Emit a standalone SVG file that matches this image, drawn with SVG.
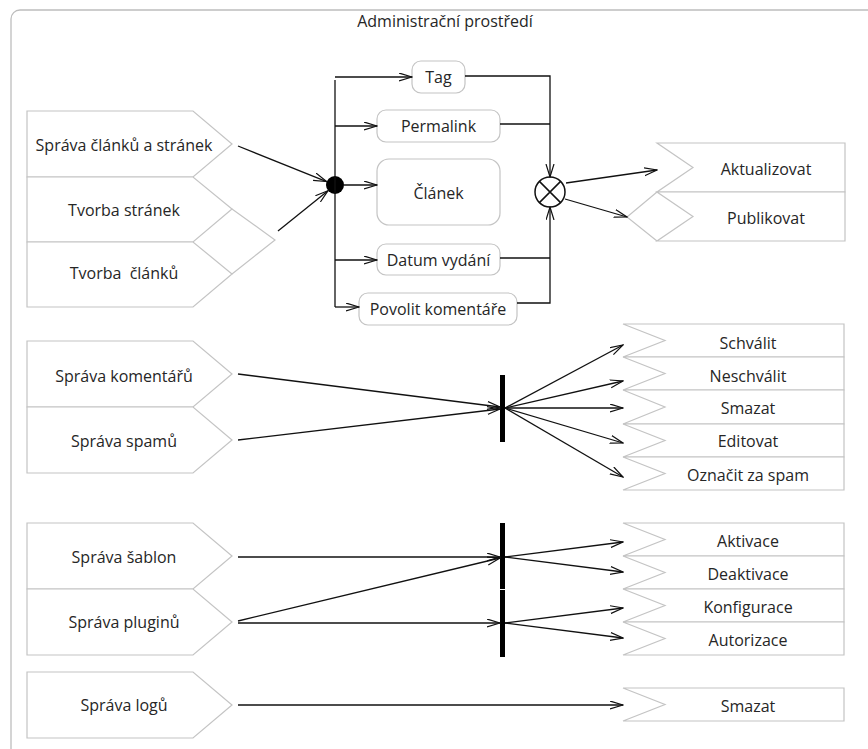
<svg xmlns="http://www.w3.org/2000/svg" width="868" height="749" viewBox="0 0 868 749">
  <style>
    text { font-family: "Open Sans", "DejaVu Sans", sans-serif; font-size: 16px; fill: #262626; text-anchor: middle; dominant-baseline: central; }
    .shape { fill: #fff; stroke: #c4c4c4; stroke-width: 1.2; }
    .act { fill: #fff; stroke: #c4c4c4; stroke-width: 1.2; }
    .edge { fill: none; stroke: #111; stroke-width: 1.3; }
    .flow { fill: none; stroke: #111; stroke-width: 1.3; marker-end: url(#open); }
    .bar { fill: #000; }
  </style>
  <defs>
    <marker id="open" markerUnits="userSpaceOnUse" markerWidth="14" markerHeight="10" refX="13" refY="4.5" orient="auto">
      <path d="M0,0.5 L13,4.5 L0,8.5" fill="none" stroke="#111" stroke-width="1.2"/>
    </marker>
  </defs>

  <rect width="868" height="749" fill="#fff"/>

  <!-- frame of the activity region -->
  <g id="frame">
    <rect x="11" y="10" width="900" height="780" rx="9" fill="none" stroke="#bdbdbd" stroke-width="1.3"/>
    <text x="445" y="21">Administrační prostředí</text>
  </g>

  <!-- source signals, group 1 -->
  <g id="sprava-clanku">
    <polygon class="shape" points="27,111 193,111 232,144 193,177 27,177"/>
    <text x="124" y="145">Správa článků a stránek</text>
  </g>
  <g id="tvorba-stranek">
    <polygon class="shape" points="27,177 193,177 232,209 193,242 27,242"/>
    <polyline class="shape" fill="none" points="232,209 275,240 232,274"/>
    <text x="124" y="210">Tvorba stránek</text>
  </g>
  <g id="tvorba-clanku">
    <polygon class="shape" points="27,242 193,242 232,274 193,307 27,307"/>
    <text x="124" y="273" xml:space="preserve">Tvorba  článků</text>
  </g>

  <!-- actions, group 1 -->
  <g id="tag">
    <rect class="act" x="412" y="61" width="53" height="32" rx="9"/>
    <text x="438.5" y="77">Tag</text>
  </g>
  <g id="permalink">
    <rect class="act" x="377" y="110" width="123" height="32" rx="9"/>
    <text x="438.5" y="126">Permalink</text>
  </g>
  <g id="clanek">
    <rect class="act" x="377" y="159" width="123" height="66" rx="12"/>
    <text x="438.5" y="193">Článek</text>
  </g>
  <g id="datum">
    <rect class="act" x="377" y="244" width="123" height="31" rx="9"/>
    <text x="438.5" y="260">Datum vydání</text>
  </g>
  <g id="povolit">
    <rect class="act" x="359" y="293" width="158" height="32" rx="9"/>
    <text x="438" y="309">Povolit komentáře</text>
  </g>

  <!-- target signals, group 1 -->
  <g id="aktualizovat">
    <polygon class="shape" points="657,143 845,143 845,192 657,192 693,167.5"/>
    <text x="766" y="169">Aktualizovat</text>
  </g>
  <g id="publikovat">
    <polygon class="shape" points="657,192 845,192 845,241 657,241 693,216.5"/>
    <polyline class="shape" fill="none" points="657,192 627,217 657,241"/>
    <text x="766" y="218">Publikovat</text>
  </g>

  <!-- source signals, group 2 -->
  <g id="sprava-komentaru">
    <polygon class="shape" points="27,341 193,341 232,374 193,407 27,407"/>
    <text x="124" y="376">Správa komentářů</text>
  </g>
  <g id="sprava-spamu">
    <polygon class="shape" points="27,407 193,407 232,440 193,473 27,473"/>
    <text x="124" y="441">Správa spamů</text>
  </g>

  <!-- target signals, group 2 -->
  <g id="schvalit">
    <polygon class="shape" points="623,324 844,324 844,357 623,357 665,340.5"/>
    <text x="748" y="343">Schválit</text>
  </g>
  <g id="neschvalit">
    <polygon class="shape" points="623,357 844,357 844,390 623,390 665,373.5"/>
    <text x="748" y="376">Neschválit</text>
  </g>
  <g id="smazat-komentar">
    <polygon class="shape" points="623,390 844,390 844,424 623,424 665,407"/>
    <text x="748" y="408">Smazat</text>
  </g>
  <g id="editovat">
    <polygon class="shape" points="623,424 844,424 844,457 623,457 665,440.5"/>
    <text x="748" y="441">Editovat</text>
  </g>
  <g id="oznacit-spam">
    <polygon class="shape" points="623,457 844,457 844,490 623,490 665,473.5"/>
    <text x="748" y="475">Označit za spam</text>
  </g>

  <!-- source signals, group 3 -->
  <g id="sprava-sablon">
    <polygon class="shape" points="27,523 193,523 232,556 193,589 27,589"/>
    <text x="124" y="557">Správa šablon</text>
  </g>
  <g id="sprava-pluginu">
    <polygon class="shape" points="27,589 193,589 232,622 193,655 27,655"/>
    <text x="124" y="622">Správa pluginů</text>
  </g>
  <g id="sprava-logu">
    <polygon class="shape" points="27,672 193,672 232,705 193,738 27,738"/>
    <text x="124" y="705">Správa logů</text>
  </g>

  <!-- target signals, group 3 -->
  <g id="aktivace">
    <polygon class="shape" points="623,523 844,523 844,556 623,556 665,539.5"/>
    <text x="748" y="541">Aktivace</text>
  </g>
  <g id="deaktivace">
    <polygon class="shape" points="623,556 844,556 844,589 623,589 665,572.5"/>
    <text x="748" y="574">Deaktivace</text>
  </g>
  <g id="konfigurace">
    <polygon class="shape" points="623,589 844,589 844,622 623,622 665,605.5"/>
    <text x="748" y="607">Konfigurace</text>
  </g>
  <g id="autorizace">
    <polygon class="shape" points="623,622 844,622 844,655 623,655 665,638.5"/>
    <text x="748" y="640">Autorizace</text>
  </g>
  <g id="smazat-logy">
    <polygon class="shape" points="623,688 844,688 844,721 623,721 665,704.5"/>
    <text x="748" y="706">Smazat</text>
  </g>

  <!-- control nodes -->
  <g id="fork-1">
    <circle cx="335" cy="185" r="9" fill="#000"/>
  </g>
  <g id="merge-1">
    <circle cx="550" cy="192" r="15" fill="#fff" stroke="#111" stroke-width="1.5"/>
    <path d="M539.4,181.4 L560.6,202.6 M560.6,181.4 L539.4,202.6" stroke="#111" stroke-width="1.5"/>
  </g>
  <g id="join-2">
    <rect class="bar" x="500" y="375" width="5" height="67"/>
  </g>
  <g id="join-3a">
    <rect class="bar" x="500" y="523" width="5" height="66"/>
  </g>
  <g id="join-3b">
    <rect class="bar" x="500" y="590" width="5" height="67"/>
  </g>

  <!-- connectors -->
  <g id="connectors">
    <!-- into fork -->
    <line class="flow" x1="238" y1="146" x2="326.6" y2="181.6"/>
    <line class="flow" x1="278" y1="231" x2="328" y2="190.7"/>
    <!-- fork spine and branches -->
    <line class="edge" x1="335" y1="80" x2="335" y2="307"/>
    <line class="flow" x1="335" y1="77" x2="412" y2="77"/>
    <line class="flow" x1="335" y1="126" x2="377" y2="126"/>
    <line class="flow" x1="344" y1="185" x2="377" y2="185"/>
    <line class="flow" x1="335" y1="260" x2="377" y2="260"/>
    <line class="flow" x1="335" y1="307" x2="359" y2="307"/>
    <!-- into merge -->
    <polyline class="edge" points="465,76 550,76 550,100"/>
    <line class="edge" x1="500" y1="124" x2="550" y2="124"/>
    <line class="flow" x1="550" y1="100" x2="550" y2="177"/>
    <polyline class="edge" points="517,303 550,303 550,280"/>
    <line class="edge" x1="500" y1="258" x2="550" y2="258"/>
    <line class="flow" x1="550" y1="280" x2="550" y2="207"/>
    <!-- out of merge -->
    <line class="flow" x1="566" y1="183" x2="657" y2="170"/>
    <line class="flow" x1="565" y1="199" x2="627" y2="217"/>

    <!-- group 2 -->
    <line class="flow" x1="238" y1="374" x2="500" y2="407"/>
    <line class="flow" x1="238" y1="440" x2="500" y2="409"/>
    <line class="flow" x1="505" y1="408" x2="623" y2="345"/>
    <line class="flow" x1="505" y1="408" x2="623" y2="381"/>
    <line class="flow" x1="505" y1="408" x2="623" y2="408"/>
    <line class="flow" x1="505" y1="408" x2="623" y2="443"/>
    <line class="flow" x1="505" y1="408" x2="623" y2="477"/>

    <!-- group 3 -->
    <line class="flow" x1="238" y1="557" x2="500" y2="557"/>
    <line class="flow" x1="238" y1="621" x2="500" y2="558"/>
    <line class="flow" x1="238" y1="623" x2="500" y2="623"/>
    <line class="flow" x1="505" y1="557" x2="623" y2="542"/>
    <line class="flow" x1="505" y1="557" x2="623" y2="572"/>
    <line class="flow" x1="505" y1="623" x2="623" y2="608"/>
    <line class="flow" x1="505" y1="623" x2="623" y2="638"/>
    <line class="flow" x1="238" y1="705" x2="623" y2="705"/>
  </g>
</svg>
